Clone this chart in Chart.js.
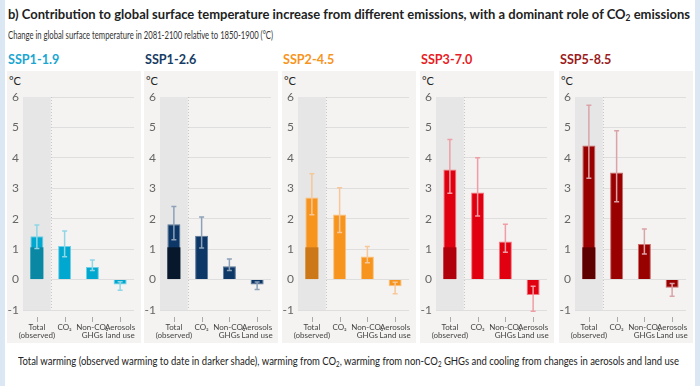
<!DOCTYPE html>
<html>
<head>
<meta charset="utf-8">
<script src="https://cdn.jsdelivr.net/npm/chart.js@4"></script>
<style>
  body { margin: 0; width: 700px; height: 386px; background: #fff; font-family: Lato, sans-serif; position: relative; overflow: hidden; }
  .strip { position: absolute; top: 0; width: 5px; height: 386px; background: #dbe8f4; }
  .heading { position: absolute; left: 8px; top: 5px; font-size: 14px; font-weight: bold; color: #222; white-space: nowrap; transform-origin: left top; }
  .sub { position: absolute; left: 8px; top: 29px; font-size: 10.5px; color: #333; white-space: nowrap; transform-origin: left top; }
  .caption { position: absolute; left: 18px; top: 355px; font-size: 10.5px; color: #222; white-space: nowrap; transform-origin: left top; }
  .ptitle { position: absolute; top: 50px; font-size: 14px; font-weight: bold; white-space: nowrap; transform: scaleX(0.9); transform-origin: left top; }
  .panel { position: absolute; top: 71px; width: 134px; height: 272px; background: #f4f3f1; }
  .panel canvas { position: absolute; left: 0; top: 0; }
  .unit { position: absolute; left: 2px; top: 3px; font-size: 11px; color: #222; }
  sub { font-size: 0.65em; vertical-align: -0.25em; line-height: 0; }
</style>
</head>
<body>
<div class="strip" style="left:0"></div>
<div class="strip" style="left:695px"></div>
<div class="heading" id="heading">b) Contribution to global surface temperature increase from different emissions, with a dominant role of CO<sub>2</sub> emissions</div>
<div class="sub" id="sub">Change in global surface temperature in 2081-2100 relative to 1850-1900 (°C)</div>
<div id="panels"></div>
<div class="caption" id="caption">Total warming (observed warming to date in darker shade), warming from CO<sub>2</sub>, warming from non-CO<sub>2</sub> GHGs and cooling from changes in aerosols and land use</div>

<script>
// categories and tick labels
const categories = [['Total', '(observed)'], ['CO₂'], ['Non-CO₂', 'GHGs'], ['Aerosols', 'Land use']];
const categoriesFirst = [['Total', '(observed)'], ['CO₂'], ['Non-CO₂', 'GHGs'], ['Aerosols', 'land use']];
const scenarios = ['SSP1-1.9', 'SSP1-2.6', 'SSP2-4.5', 'SSP3-7.0', 'SSP5-8.5'];
const yTicks = [-1, 0, 1, 2, 3, 4, 5, 6];

// observed warming to date (darker part of the Total bar)
const observed = 1.06;

// central values and likely ranges per scenario
const ssp119 = [1.42, 1.1, 0.41, -0.16];
const ssp119Low = [1.02, 0.75, 0.3, -0.07];
const ssp119High = [1.79, 1.6, 0.64, -0.35];

const ssp126 = [1.82, 1.44, 0.44, -0.16];
const ssp126Low = [1.31, 1.04, 0.3, -0.08];
const ssp126High = [2.4, 2.06, 0.68, -0.33];

const ssp245 = [2.7, 2.14, 0.76, -0.22];
const ssp245Low = [2.13, 1.55, 0.55, -0.09];
const ssp245High = [3.48, 3.02, 1.09, -0.47];

const ssp370 = [3.62, 2.86, 1.25, -0.51];
const ssp370Low = [2.84, 2.09, 0.9, -0.22];
const ssp370High = [4.6, 4.0, 1.82, -1.04];

const ssp585 = [4.41, 3.52, 1.17, -0.27];
const ssp585Low = [3.33, 2.56, 0.84, -0.13];
const ssp585High = [5.73, 4.89, 1.66, -0.55];

const values = [ssp119, ssp126, ssp245, ssp370, ssp585];
const lows = [ssp119Low, ssp126Low, ssp245Low, ssp370Low, ssp585Low];
const highs = [ssp119High, ssp126High, ssp245High, ssp370High, ssp585High];

const mainColors = ['#00a8cf', '#0d3766', '#f7941d', '#e1000f', '#990000'];
const obsColors = ['#0a87a3', '#07182c', '#cc7818', '#b0000b', '#5f0000'];
const edgeColors = ['#6fcfe6', '#5b7797', '#fbc07a', '#f27a82', '#c96a6a'];
const errColors = ['#8fd6e6', '#8da2b8', '#f6c79a', '#ef9ea6', '#d9a3a8'];
const titleColors = ['#1aa6d0', '#173c66', '#f7941d', '#e71d25', '#9b1b20'];
const panelLefts = [7, 144, 282, 420, 559];

// grey band behind Total, dotted divider and the small x tick marks
const bandPlugin = {
    id: 'band',
    beforeDatasetsDraw(chart) {
        const { ctx, chartArea, scales } = chart;
        const xMid = scales.x.getPixelForValue(0.5);
        ctx.save();
        ctx.fillStyle = '#e6e6e6';
        ctx.fillRect(chartArea.left, chartArea.top, xMid - chartArea.left, chartArea.bottom - chartArea.top);
        ctx.strokeStyle = '#c8c8c8';
        ctx.lineWidth = 1;
        ctx.setLineDash([1, 2]);
        ctx.beginPath();
        ctx.moveTo(Math.round(xMid) + 0.5, chartArea.top);
        ctx.lineTo(Math.round(xMid) + 0.5, chartArea.bottom);
        ctx.stroke();
        ctx.setLineDash([]);
        ctx.strokeStyle = '#aaa';
        for (let i = 0; i < chart.data.labels.length; i++) {
            const x = Math.round(scales.x.getPixelForValue(i)) + 0.5;
            ctx.beginPath();
            ctx.moveTo(x, chartArea.bottom + 7);
            ctx.lineTo(x, chartArea.bottom + 12);
            ctx.stroke();
        }
        ctx.restore();
    }
};

const errorBarPlugin = {
    id: 'errorBars',
    afterDatasetsDraw(chart, args, opts) {
        const { ctx, scales } = chart;
        const meta = chart.getDatasetMeta(1);
        ctx.save();
        ctx.strokeStyle = opts.color;
        ctx.lineWidth = 1.5;
        meta.data.forEach((bar, i) => {
            const x = bar.x;
            const y1 = scales.y.getPixelForValue(opts.low[i]);
            const y2 = scales.y.getPixelForValue(opts.high[i]);
            ctx.beginPath();
            ctx.moveTo(x, y1);
            ctx.lineTo(x, y2);
            ctx.moveTo(x - 2.5, y1);
            ctx.lineTo(x + 2.5, y1);
            ctx.moveTo(x - 2.5, y2);
            ctx.lineTo(x + 2.5, y2);
            ctx.stroke();
        });
        ctx.restore();
    }
};

function renderPanel(idx) {
    const holder = document.getElementById('panels');

    const title = document.createElement('div');
    title.className = 'ptitle';
    title.style.left = (panelLefts[idx] + 1) + 'px';
    title.style.color = titleColors[idx];
    title.textContent = scenarios[idx];
    holder.appendChild(title);

    const panel = document.createElement('div');
    panel.className = 'panel';
    panel.style.left = panelLefts[idx] + 'px';
    panel.innerHTML = '<span class="unit">°C</span><canvas width="134" height="272"></canvas>';
    holder.appendChild(panel);

    const obsData = [observed, null, null, null];

    new Chart(panel.querySelector('canvas'), {
        type: 'bar',
        data: {
            labels: idx === 0 ? categoriesFirst : categories,
            datasets: [{
                label: 'Observed',
                data: obsData,
                backgroundColor: obsColors[idx],
                borderWidth: 0,
                grouped: false,
                barPercentage: 0.47,
                categoryPercentage: 1
            }, {
                label: scenarios[idx],
                data: values[idx],
                backgroundColor: mainColors[idx],
                borderColor: edgeColors[idx],
                borderWidth: 1,
                grouped: false,
                barPercentage: 0.47,
                categoryPercentage: 1
            }]
        },
        options: {
            responsive: false,
            animation: false,
            layout: { padding: { top: 26, right: 7, left: 0, bottom: 0 } },
            plugins: {
                legend: { display: false },
                tooltip: { enabled: false },
                errorBars: { low: lows[idx], high: highs[idx], color: errColors[idx] }
            },
            scales: {
                x: {
                    grid: { display: false, drawTicks: false },
                    border: { display: false },
                    ticks: {
                        padding: 13,
                        maxRotation: 0,
                        autoSkip: false,
                        color: '#444',
                        font: { family: 'Lato', size: 8, lineHeight: 1 }
                    },
                    afterFit: scale => {
                        scale.height = 33;
                        scale.paddingLeft = 0;
                        scale.paddingRight = 0;
                    }
                },
                y: {
                    min: -1,
                    max: 6,
                    afterBuildTicks: scale => { scale.ticks = yTicks.map(v => ({ value: v })); },
                    grid: { color: '#dedede', lineWidth: 1, drawTicks: false },
                    border: { display: false },
                    ticks: {
                        padding: 4,
                        color: '#666',
                        font: { family: 'Lato', size: 12 }
                    },
                    afterFit: scale => { scale.width = 16; }
                }
            }
        },
        plugins: [bandPlugin, errorBarPlugin]
    });
}

function fitWidth(id, target) {
    const el = document.getElementById(id);
    const w = el.getBoundingClientRect().width;
    el.style.transform = 'scaleX(' + (target / w) + ')';
}

document.addEventListener('DOMContentLoaded', () => {
    fitWidth('heading', 682);
    fitWidth('sub', 265);
    fitWidth('caption', 661);
    scenarios.forEach((s, i) => renderPanel(i));
});
</script>
</body>
</html>
